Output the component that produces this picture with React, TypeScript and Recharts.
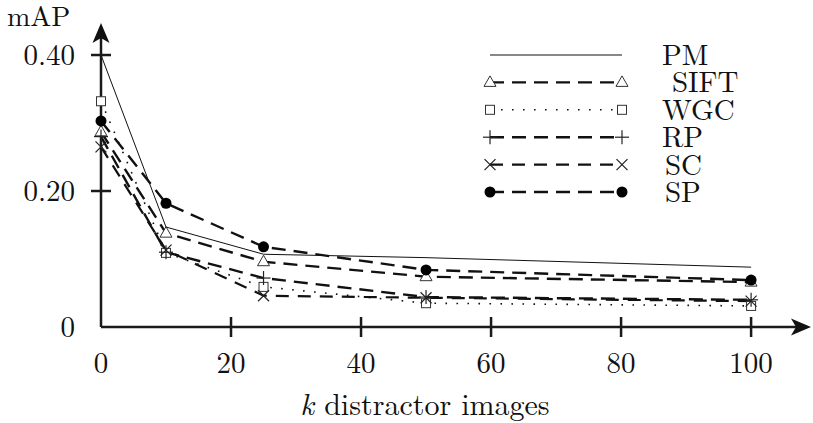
import React from 'react';
import { LineChart, Line, XAxis, YAxis, Legend, Label } from 'recharts';

// k (thousands of distractor images) on the x axis
const distractors = [0, 10, 25, 50, 100];

// mAP per method
const pmValues = [0.4, 0.147, 0.107, 0.102, 0.088];
const siftValues = [0.287, 0.138, 0.096, 0.074, 0.066];
const wgcValues = [0.332, 0.109, 0.059, 0.035, 0.031];
const rpValues = [0.28, 0.11, 0.072, 0.044, 0.04];
const scValues = [0.265, 0.113, 0.046, 0.043, 0.038];
const spValues = [0.303, 0.182, 0.118, 0.084, 0.069];

const seriesNames = ['PM', 'SIFT', 'WGC', 'RP', 'SC', 'SP'];
const seriesValues = [pmValues, siftValues, wgcValues, rpValues, scValues, spValues];

const xTicks = [0, 20, 40, 60, 80, 100];
const yTicks = [0, 0.2, 0.4];
const yTickLabels = ['0', '0.20', '0.40'];

const data = distractors.map((k, i) => {
  const row: Record<string, number> = { k };
  seriesNames.forEach((name, s) => {
    row[name] = seriesValues[s][i];
  });
  return row;
});

type Shape = 'none' | 'triangle' | 'square' | 'plus' | 'cross' | 'circle';

const lineStyle: Record<string, { shape: Shape; dash?: string; width: number; indent: number }> = {
  PM: { shape: 'none', width: 1, indent: 0 },
  SIFT: { shape: 'triangle', dash: '14 8', width: 2.4, indent: 10 },
  WGC: { shape: 'square', dash: '1.6 9.4', width: 1.6, indent: 0 },
  RP: { shape: 'plus', dash: '14 8', width: 2.4, indent: 0 },
  SC: { shape: 'cross', dash: '13 9', width: 2.2, indent: 3 },
  SP: { shape: 'circle', dash: '14 8', width: 2.4, indent: 3 },
};

const FONT = 'Latin Modern Roman';
const INK = '#1a1a1a';

function MarkShape({ shape, cx, cy }: { shape: Shape; cx: number; cy: number }) {
  if (cx == null || cy == null) return null;
  switch (shape) {
    case 'triangle':
      return (
        <polygon
          points={`${cx},${cy - 6.5} ${cx - 6},${cy + 4} ${cx + 6},${cy + 4}`}
          fill="#fff"
          stroke="#333"
          strokeWidth={1}
        />
      );
    case 'square':
      return <rect x={cx - 4.5} y={cy - 4.5} width={9} height={9} fill="#fff" stroke="#333" strokeWidth={1} />;
    case 'plus':
      return (
        <g stroke="#222" strokeWidth={1.2}>
          <line x1={cx - 7} x2={cx + 7} y1={cy} y2={cy} />
          <line x1={cx} x2={cx} y1={cy - 7} y2={cy + 7} />
        </g>
      );
    case 'cross':
      return (
        <g stroke="#222" strokeWidth={1.2}>
          <line x1={cx - 5.5} x2={cx + 5.5} y1={cy - 5.5} y2={cy + 5.5} />
          <line x1={cx - 5.5} x2={cx + 5.5} y1={cy + 5.5} y2={cy - 5.5} />
        </g>
      );
    case 'circle':
      return <circle cx={cx} cy={cy} r={5.5} fill="#000" />;
    default:
      return null;
  }
}

const XTick = (props: any) => {
  const { x, y, payload } = props;
  return (
    <g>
      {payload.value !== 0 && <line x1={x} x2={x} y1={y - 10} y2={y + 10} stroke={INK} strokeWidth={2.5} />}
      <text x={x} y={y + 46} textAnchor="middle" fontFamily={FONT} fontSize={29} fill="#111">
        {payload.value}
      </text>
    </g>
  );
};

const YTick = (props: any) => {
  const { x, y, payload } = props;
  const idx = yTicks.indexOf(payload.value);
  return (
    <g>
      {payload.value !== 0 && <line x1={x - 10} x2={x + 10} y1={y} y2={y} stroke={INK} strokeWidth={2.5} />}
      <text x={x - 26} y={y + 10} textAnchor="end" fontFamily={FONT} fontSize={29} fill="#111">
        {yTickLabels[idx]}
      </text>
    </g>
  );
};

// legend drawn as its own little svg: sample line with a marker at each end, then the name
const LegendBox = () => (
  <svg width={330} height={210} style={{ display: 'block' }}>
    {seriesNames.map((name, i) => {
      const st = lineStyle[name];
      const y = 30 + i * 27.4;
      return (
        <g key={name}>
          <line
            x1={10}
            x2={142}
            y1={y}
            y2={y}
            stroke="#111"
            strokeWidth={st.width}
            strokeDasharray={st.dash}
          />
          <MarkShape shape={st.shape} cx={10} cy={y} />
          <MarkShape shape={st.shape} cx={142} cy={y} />
          <text x={182 + st.indent} y={y + 10} fontFamily={FONT} fontSize={29} fill="#111">
            {name}
          </text>
        </g>
      );
    })}
  </svg>
);

export default function App() {
  return (
    <div style={{ position: 'fixed', left: 0, top: 0, width: 813, height: 423, background: '#fff' }}>
      <svg width={0} height={0} style={{ position: 'absolute' }}>
        <defs>
          <marker
            id="axisArrow"
            viewBox="0 0 20 20"
            markerUnits="userSpaceOnUse"
            markerWidth={20}
            markerHeight={20}
            refX={16}
            refY={10}
            orient="auto-start-reverse"
          >
            <path d="M20,10 L0,1.5 L5,10 L0,18.5 Z" fill="#111" />
          </marker>
        </defs>
      </svg>
      <LineChart width={813} height={423} data={data} margin={{ top: 27, right: 6, bottom: 0, left: 0 }}>
        <XAxis
          dataKey="k"
          type="number"
          domain={[0, 108.6]}
          ticks={xTicks}
          height={96}
          tickSize={0}
          tickMargin={0}
          tickLine={false}
          tick={<XTick />}
          axisLine={{ stroke: INK, strokeWidth: 2.5, markerEnd: 'url(#axisArrow)' }}
          label={
            <Label
              content={(p: any) => (
                <text
                  x={p.viewBox.x + 324}
                  y={p.viewBox.y + 88}
                  textAnchor="middle"
                  fontFamily={FONT}
                  fontSize={30}
                  fill="#111"
                >
                  <tspan fontStyle="italic">k</tspan> distractor images
                </text>
              )}
            />
          }
        />
        <YAxis
          type="number"
          domain={[0, 0.4412]}
          ticks={yTicks}
          width={101}
          tickSize={0}
          tickMargin={0}
          tickLine={false}
          tick={<YTick />}
          axisLine={{ stroke: INK, strokeWidth: 2.5, markerStart: 'url(#axisArrow)' }}
          label={
            <Label
              content={(p: any) => (
                <text x={p.viewBox.x + 7} y={p.viewBox.y - 1} fontFamily={FONT} fontSize={28} fill="#111">
                  mAP
                </text>
              )}
            />
          }
        />
        <Legend
          layout="horizontal"
          verticalAlign="middle"
          align="center"
          content={<LegendBox />}
          wrapperStyle={{ position: 'absolute', top: 25, left: 480, width: 330 }}
        />
        {seriesNames.map((name) => {
          const st = lineStyle[name];
          return (
            <Line
              key={name}
              type="linear"
              dataKey={name}
              stroke="#111"
              strokeWidth={st.width}
              strokeDasharray={st.dash}
              isAnimationActive={false}
              dot={
                st.shape === 'none'
                  ? false
                  : (p: any) => <MarkShape key={`${name}-${p.index}`} shape={st.shape} cx={p.cx} cy={p.cy} />
              }
              activeDot={false}
            />
          );
        })}
      </LineChart>
    </div>
  );
}
